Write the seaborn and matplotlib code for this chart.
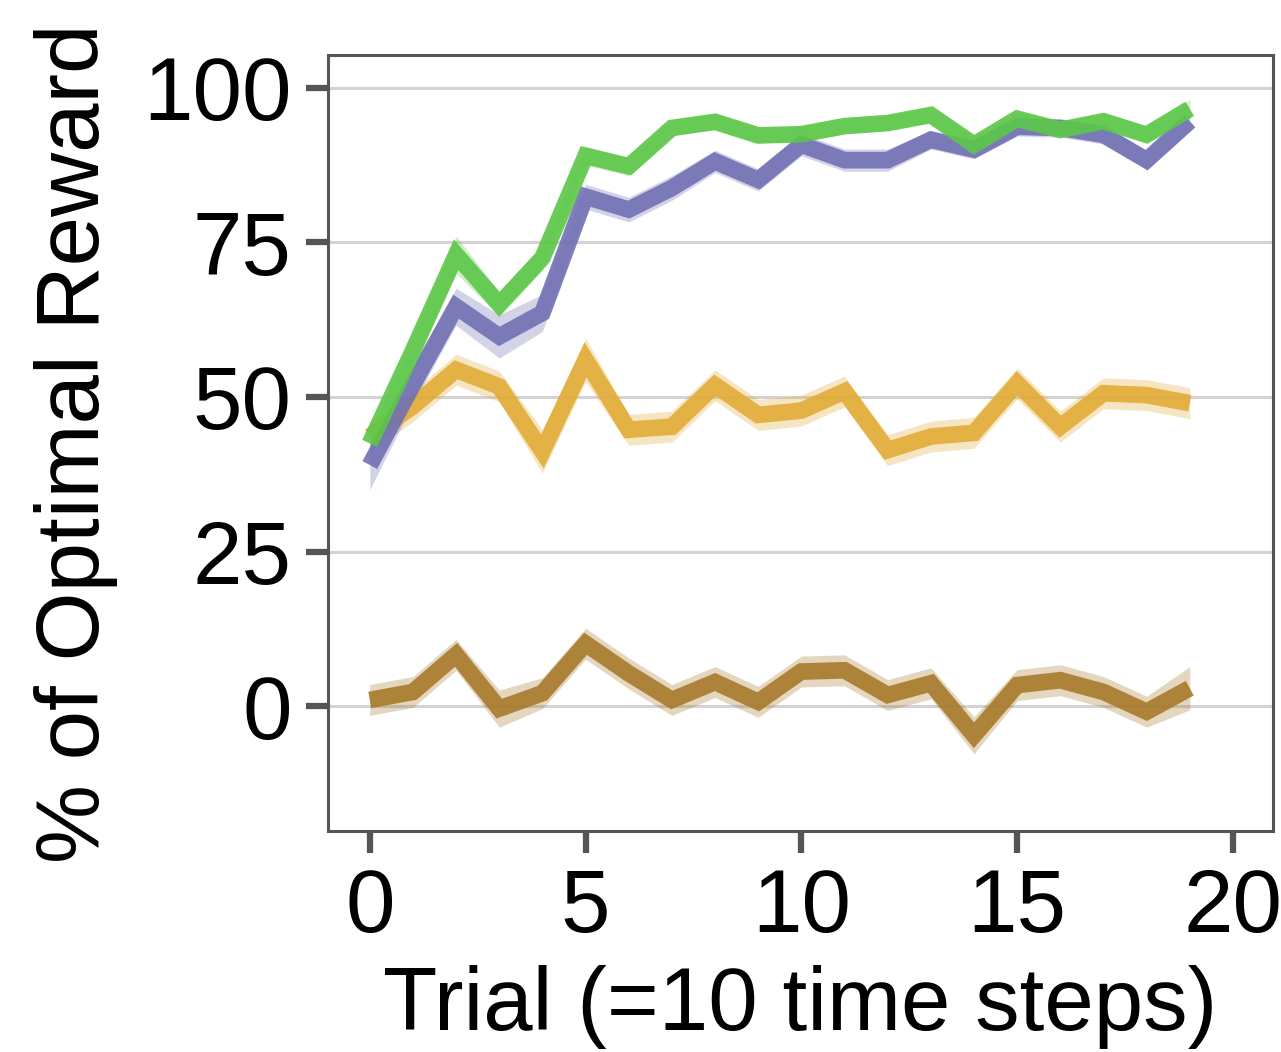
import numpy as np
import pandas as pd
import seaborn as sns
import matplotlib.pyplot as plt

# Data (mean and half-width of the shaded band)
trials = list(range(20))

green = [42.5, 57.5, 73.0, 65.0, 72.5, 89.0, 87.3, 93.5, 94.5, 92.3, 92.5,
         93.8, 94.3, 95.6, 90.8, 95.0, 93.2, 94.6, 92.4, 96.6]
green_err = [2.0, 2.0, 3.0, 2.0, 2.0, 1.5, 1.5, 1.2, 1.2, 1.2, 1.2,
             1.2, 1.2, 1.2, 1.2, 1.2, 1.2, 1.2, 1.2, 1.5]

purple = [39.0, 52.0, 64.6, 59.8, 63.6, 82.4, 80.3, 83.8, 88.1, 85.1, 90.8,
          88.3, 88.3, 91.6, 90.0, 93.7, 93.5, 92.4, 88.3, 94.6]
purple_err = [4.0, 3.0, 3.0, 3.5, 3.0, 2.0, 2.0, 2.0, 1.8, 1.8, 1.8,
              1.8, 1.8, 1.5, 1.5, 1.5, 1.5, 1.5, 1.5, 1.5]

orange = [43.6, 48.5, 54.4, 51.7, 41.2, 56.0, 44.7, 45.2, 51.9, 47.1, 47.8,
          50.9, 41.4, 43.6, 44.2, 52.2, 45.2, 50.6, 50.3, 49.0]
orange_err = [2.5, 2.5, 2.5, 2.5, 3.5, 3.5, 2.5, 2.5, 2.5, 2.5, 2.5,
              2.5, 2.5, 2.5, 2.5, 2.5, 2.5, 2.5, 2.5, 2.5]

brown = [1.0, 2.3, 8.3, -0.4, 2.1, 10.1, 5.3, 1.0, 3.9, 0.7, 5.6,
         5.8, 1.8, 3.7, -4.7, 3.4, 4.2, 2.3, -0.9, 2.9]
brown_err = [2.5, 2.5, 2.5, 3.0, 2.5, 2.5, 2.5, 2.5, 2.5, 2.5, 2.5,
             2.5, 2.5, 2.5, 3.0, 2.5, 2.5, 2.5, 2.5, 3.5]

series = {
    "brown": (brown, brown_err, "#a77a2c"),
    "orange": (orange, orange_err, "#e2ac38"),
    "purple": (purple, purple_err, "#7070b4"),
    "green": (green, green_err, "#5cc748"),
}

rows = []
for name, (vals, errs, _) in series.items():
    for t, v in zip(trials, vals):
        rows.append({"trial": t, "value": v, "series": name})
df = pd.DataFrame(rows)

sns.set_theme(style="white")
plt.rcParams['font.family'] = ['Liberation Sans', 'DejaVu Sans']

fig = plt.figure(figsize=(12.81, 10.52), dpi=100)
ax = fig.add_axes([0.256, 0.21, 0.7378, 0.7377])

for name, (vals, errs, color) in series.items():
    lo = np.array(vals) - np.array(errs)
    hi = np.array(vals) + np.array(errs)
    ax.fill_between(trials, lo, hi, color=color, alpha=0.3, linewidth=0, zorder=2)
    sns.lineplot(data=df[df["series"] == name], x="trial", y="value",
                 color=color, linewidth=12, alpha=0.9, ax=ax, zorder=3,
                 errorbar=None, legend=False, solid_capstyle="butt",
                 solid_joinstyle="miter")

ax.set_xlim(-0.97, 20.93)
ax.set_ylim(-20.2, 105.3)
ax.set_xticks([0, 5, 10, 15, 20])
ax.set_yticks([0, 25, 50, 75, 100])
ax.yaxis.grid(True, color="#d3d3d3", linewidth=2.2, zorder=0)
ax.xaxis.grid(False)
ax.set_axisbelow(True)

for sp in ax.spines.values():
    sp.set_color("#555555")
    sp.set_linewidth(2.2)

ax.tick_params(axis="both", which="major", labelsize=64, length=16,
               width=4.5, color="#555555", labelcolor="black", pad=10)
ax.tick_params(axis="x", bottom=True)
ax.tick_params(axis="y", left=True)

ax.set_xlabel("Trial (=10 time steps)", fontsize=64, labelpad=10, color="black")
ax.set_ylabel("% of Optimal Reward", fontsize=64, labelpad=18, color="black")

plt.savefig("out.png", dpi=100)
